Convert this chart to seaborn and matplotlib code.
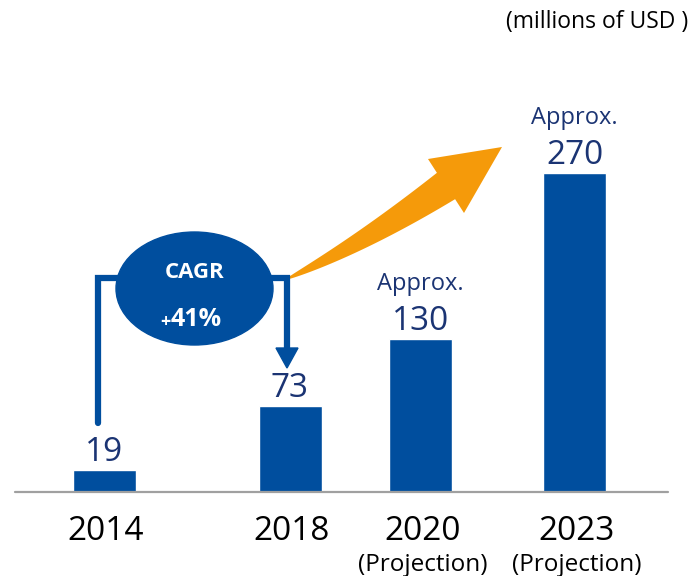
import numpy as np
import pandas as pd
import matplotlib
matplotlib.use("Agg")
import matplotlib.pyplot as plt
import seaborn as sns
from matplotlib.patches import Ellipse, Polygon
from matplotlib.lines import Line2D

# ---------------- data ----------------
years = ["2014", "2018", "2020", "2023"]
values = [19, 73, 130, 270]
approx = [False, False, True, True]
projection = [False, False, True, True]
unit_label = "(millions of USD )"
cagr_title = "CAGR"
cagr_value = "41%"

# ---------------- layout ----------------
W, H = 688, 576
x_pos = [104, 290, 420.5, 574.5]      # bar centres (pixels)
bar_w = 63
base_y = 492                          # baseline pixel row (from top)
px_per_unit = 1.18

BLUE = "#004E9E"
NAVY = "#1B3473"
ORANGE = "#F59A0A"
PT = 72 / 100                         # points per pixel

sns.set_theme(style="white")
plt.rcParams["font.family"] = ["Open Sans", "DejaVu Sans"]

fig = plt.figure(figsize=(W / 100, H / 100), dpi=100)
ax = fig.add_axes([0, (H - base_y) / H, 1, base_y / H])

df = pd.DataFrame({"x": x_pos, "value": values, "year": years})
native_unit = np.min(np.diff(sorted(x_pos)))
sns.barplot(data=df, x="x", y="value", native_scale=True,
            width=bar_w / native_unit, color=BLUE, saturation=1,
            ax=ax, zorder=2)
ax.set_xlim(0, W)
ax.set_ylim(0, base_y / px_per_unit)
ax.set_xlabel("")
ax.set_ylabel("")
ax.set_yticks([])
ax.set_xticks([])
for s in ax.spines.values():
    s.set_visible(False)
ax.patch.set_alpha(0)
ax.axhline(0, xmin=15 / W, xmax=668 / W, color="#A0A0A0", lw=1.6, zorder=3,
           clip_on=False)

# year labels and projection notes
for xp, yr, proj in zip(x_pos, years, projection):
    ax.annotate(yr, xy=(xp + 2, 0), xytext=(0, -48 * PT),
                textcoords="offset points", ha="center", va="baseline",
                fontsize=24, color="black", annotation_clip=False)
    if proj:
        ax.annotate("(Projection)", xy=(xp + 2, 0), xytext=(0, -79 * PT),
                    textcoords="offset points", ha="center", va="baseline",
                    fontsize=17.5, color="black", annotation_clip=False)

# value labels
for xp, v, ap in zip(x_pos, values, approx):
    ax.annotate(f"{v}", xy=(xp, v), xytext=(0, 9 * PT),
                textcoords="offset points",
                ha="center", va="baseline", fontsize=24, color=NAVY)
    if ap:
        ax.annotate("Approx.", xy=(xp, v), xytext=(0, 49 * PT),
                    textcoords="offset points", ha="center", va="baseline",
                    fontsize=17, color=NAVY)

# unit label
fig.text(1.0, 1 - 22 / H, unit_label, ha="right", va="center",
         fontsize=16.5, color="black")

# ---------- decorations in pixel coords (y from top) ----------
def P(x, y):
    return (x / W, 1 - y / H)

tf = fig.transFigure
lw = 4.5
# bracket
fig.add_artist(Line2D([98 / W, 98 / W, 287 / W, 287 / W],
                      [1 - 423 / H, 1 - 278 / H, 1 - 278 / H, 1 - 352 / H],
                      color=BLUE, lw=lw, solid_joinstyle="miter",
                      transform=tf, zorder=4))
fig.add_artist(Polygon([P(276, 348), P(298, 348), P(287, 368)],
                       closed=True, color=BLUE, transform=tf, zorder=4))
# ellipse
cx, cy = P(194.5, 288.5)
fig.add_artist(Ellipse((cx, cy), 157 / W, 113 / H, color=BLUE,
                       transform=tf, zorder=5))
fig.text(*P(194.5, 272), cagr_title, ha="center", va="center",
         fontsize=16, weight="bold", color="white", zorder=6)
fig.text(*P(171, 320), cagr_value, ha="left", va="center",
         fontsize=18, weight="bold", color="white", zorder=6)
fig.text(*P(165, 322), "+", ha="center", va="center",
         fontsize=13, weight="bold", color="white", zorder=6)

# orange curved arrow
P0 = np.array([289.0, 278.0])
B = np.array([446.0, 186.0])
C = np.array([362.0, 244.0])
t = np.linspace(0, 1, 60)
curve = ((1 - t)[:, None] ** 2) * P0 + 2 * ((1 - t) * t)[:, None] * C + (t[:, None] ** 2) * B
deriv = 2 * (1 - t)[:, None] * (C - P0) + 2 * t[:, None] * (B - C)
nrm = np.stack([-deriv[:, 1], deriv[:, 0]], axis=1)
nrm /= np.linalg.norm(nrm, axis=1)[:, None]
wid = 2 + 30 * t ** 0.85
left = curve + nrm * (wid / 2)[:, None]
right = curve - nrm * (wid / 2)[:, None]
head = [np.array([428.0, 159.0]), np.array([502.0, 147.0]), np.array([464.0, 213.0])]
d1 = np.linalg.norm(left[-1] - head[0])
d2 = np.linalg.norm(left[-1] - head[2])
if d1 < d2:
    pts = list(left) + head + list(right[::-1])
else:
    pts = list(left) + head[::-1] + list(right[::-1])
pts = [P(x, y) for x, y in pts]
fig.add_artist(Polygon(pts, closed=True, color=ORANGE, transform=tf, zorder=3,
                       lw=0))

fig.savefig("out.png", dpi=100)
